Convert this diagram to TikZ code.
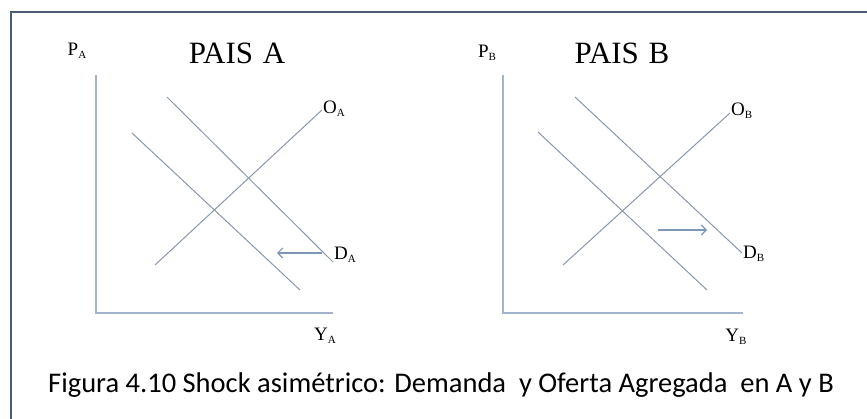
\documentclass[tikz,border=0pt]{standalone}
\usepackage{fontspec}
\setmainfont{Liberation Serif}
\newfontfamily\capfont{Carlito}
\usetikzlibrary{positioning, arrows.meta}

\definecolor{framecol}{HTML}{4A5B78}
\definecolor{axiscol}{HTML}{A3B3CB}
\definecolor{linecol}{HTML}{8A97AA}
\definecolor{arrowcol}{HTML}{7F97B6}

\newcommand{\lsub}[1]{\raisebox{-3pt}{\fontsize{11}{11}\selectfont #1}}

\tikzset{
  axisline/.style={draw=axiscol, line width=1.3pt},
  curveline/.style={draw=linecol, line width=1pt},
  shiftarrow/.style={draw=arrowcol, line width=1.1pt, -{Straight Barb[length=5pt, width=10pt]}},
  varlabel/.style={font=\fontsize{19}{21}\selectfont, inner sep=1pt},
  titlelabel/.style={font=\fontsize{31}{33}\selectfont, inner sep=0pt}
}

\begin{document}
\begin{tikzpicture}[x=1pt, y=-1pt]
    \useasboundingbox (0,0) rectangle (867,418);
    % frame
    \draw[framecol, line width=2.6pt] (11,420) -- (11,12) -- (869,12);

    % points, pais A
    \coordinate (oa) at (96,313);
    \coordinate (pa) at (96,75);
    \coordinate (ya) at (333,313);
    \coordinate (oa1) at (155,265);
    \coordinate (oa2) at (322,110);
    \coordinate (da1) at (167,97);
    \coordinate (da2) at (333,262);
    \coordinate (dn1) at (132,133);
    \coordinate (dn2) at (300,290);
    \coordinate (sa1) at (322,253);
    \coordinate (sa2) at (277,253);
    % points, pais B
    \coordinate (ob) at (503,313);
    \coordinate (pb) at (503,75);
    \coordinate (yb) at (743,313);
    \coordinate (ob1) at (563,265);
    \coordinate (ob2) at (730,113);
    \coordinate (db1) at (575,97);
    \coordinate (db2) at (742,253);
    \coordinate (dm1) at (538,132);
    \coordinate (dm2) at (707,290);
    \coordinate (sb1) at (658,230);
    \coordinate (sb2) at (707,230);

    % axes
    \draw[axisline] (pa) -- (oa) -- (ya);
    \draw[axisline] (pb) -- (ob) -- (yb);
    % curves
    \draw[curveline] (oa1) -- (oa2);
    \draw[curveline] (da1) -- (da2);
    \draw[curveline] (dn1) -- (dn2);
    \draw[curveline] (ob1) -- (ob2);
    \draw[curveline] (db1) -- (db2);
    \draw[curveline] (dm1) -- (dm2);
    % shifts
    \draw[shiftarrow] (sa1) -- (sa2);
    \draw[shiftarrow] (sb1) -- (sb2);

    % labels
    \node[varlabel] (paLbl) at (77,51) {P\lsub{A}};
    \node[titlelabel] (titleA) at (237,53) {PAIS\hspace{2pt} A};
    \node[varlabel] (yaLbl) at (325,336) {Y\lsub{A}};
    \node[varlabel, right] (oaLbl) at ([yshift=1pt]oa2) {O\lsub{A}};
    \node[varlabel, right] (daLbl) at ([yshift=7pt]da2) {D\lsub{A}};
    \node[varlabel] (pbLbl) at (487,53) {P\lsub{B}};
    \node[titlelabel] (titleB) at (622,53) {PAIS\hspace{2pt} B};
    \node[varlabel] (ybLbl) at (736,337) {Y\lsub{B}};
    \node[varlabel, right] (obLbl) at ([yshift=2pt]ob2) {O\lsub{B}};
    \node[varlabel, right] (dbLbl) at ([yshift=-1pt]db2) {D\lsub{B}};
    % caption
    \node[font=\capfont\fontsize{28.5}{30}\selectfont, inner sep=0pt, anchor=base] (caption) at (441,392)
      {Figura 4.10 Shock asimétrico: Demanda \ y Oferta Agregada \ en A y B};
\end{tikzpicture}
\end{document}
